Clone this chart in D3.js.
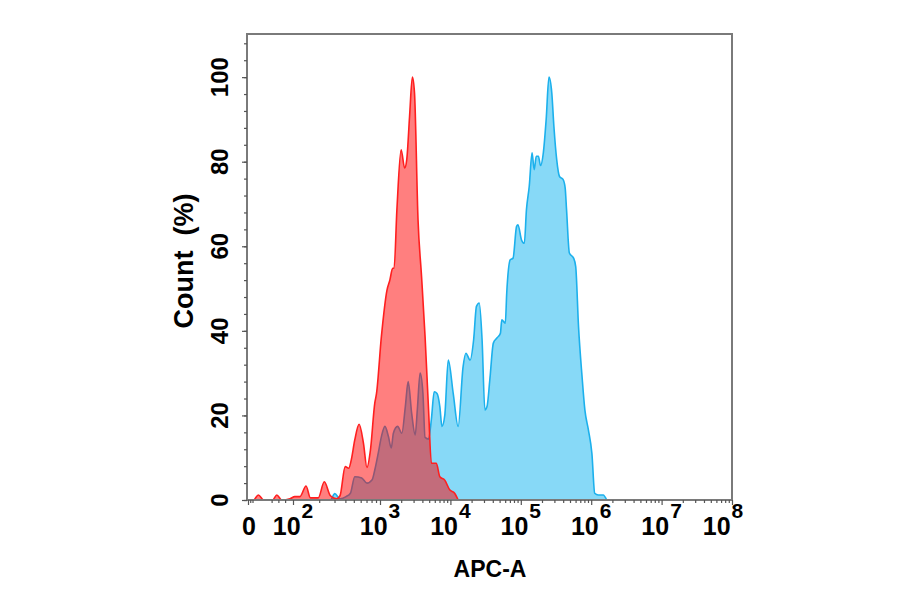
<!DOCTYPE html>
<html>
<head>
<meta charset="utf-8">
<script src="https://cdn.jsdelivr.net/npm/d3@7"></script>
<style>
  html, body { margin: 0; padding: 0; background: #fff; }
  svg { display: block; }
  text { font-family: "Liberation Sans", Arial, sans-serif; font-weight: bold; fill: #000; }
</style>
</head>
<body>
<svg id="chart" width="900" height="594"></svg>
<script>
// ---- Data (x in display decades: 0 = "0", 2 = 10^2 ... 8 = 10^8; y = Count %) ----
const xTickValues = [0, 2, 3, 4, 5, 6, 7, 8];
const xTickExponents = [null, "2", "3", "4", "5", "6", "7", "8"];
const yTickValues = [0, 20, 40, 60, 80, 100];
const yMinorTickValues = d3.range(0, 112, 4);

// isotype control (red)
const controlHist = [
  [0.10,0],[0.24,0],[0.46,1.2],[0.70,0],[1.10,0],[1.28,1.2],[1.50,0],[1.87,0.3],
  [2.02,0.8],[2.08,0.8],[2.15,3.3],[2.20,0.5],[2.29,0.5],[2.36,4.3],[2.43,1.0],
  [2.50,0.3],[2.54,1.0],[2.60,7.9],[2.64,7.5],[2.67,9.5],[2.71,14.2],[2.76,17.9],
  [2.81,13.4],[2.85,7.7],[2.89,11.8],[2.94,22.9],[2.96,25.2],[3.02,38.7],
  [3.10,49.7],[3.14,52.0],[3.18,54.8],[3.20,54.8],[3.24,68.6],[3.30,82.8],
  [3.35,78.5],[3.38,80.5],[3.42,90.7],[3.46,100],[3.49,96.3],[3.54,66.3],
  [3.59,52.9],[3.64,38.7],[3.69,21.3],[3.73,8.7],[3.80,8.7],[3.85,5.5],
  [3.92,4.7],[3.99,2.4],[4.06,1.6],[4.11,0]
];

// sample (blue)
const sampleHist = [
  [2.40,0],[2.43,0],[2.48,1.5],[2.54,0.3],[2.61,0.8],[2.66,1.6],[2.71,5.5],
  [2.79,5.2],[2.85,4.0],[2.91,4.8],[2.94,7.1],[2.98,11.1],[3.02,15.0],[3.07,17.4],
  [3.12,15.0],[3.16,12.3],[3.19,15.8],[3.25,17.4],[3.31,15.8],[3.36,22.1],
  [3.40,28.0],[3.45,20.5],[3.50,15.4],[3.53,21.3],[3.57,30.0],[3.61,25.2],
  [3.64,14.8],[3.69,14.4],[3.73,19.1],[3.77,25.6],[3.81,25.2],[3.85,22.1],
  [3.88,17.4],[3.92,20.0],[3.97,33.1],[4.04,25.2],[4.11,17.4],[4.18,31.5],
  [4.22,34.7],[4.28,33.1],[4.33,37.9],[4.37,45.8],[4.41,46.6],[4.45,37.9],
  [4.49,21.3],[4.52,22.1],[4.56,28.4],[4.61,37.1],[4.66,38.3],[4.71,39.4],
  [4.73,42.6],[4.78,41.8],[4.80,48.9],[4.85,56.8],[4.89,57.2],[4.94,64.7],
  [4.96,65.1],[5.01,61.5],[5.05,60.7],[5.08,68.6],[5.12,74.2],[5.16,82.1],
  [5.19,78.1],[5.22,81.3],[5.25,81.3],[5.28,79.1],[5.32,82.1],[5.36,89.9],
  [5.40,100],[5.44,96.3],[5.47,88.4],[5.51,80.5],[5.55,76.5],[5.60,75.8],
  [5.63,73.8],[5.65,68.6],[5.69,58.4],[5.75,57.2],[5.78,55.2],[5.82,41.0],
  [5.87,29.2],[5.91,21.3],[5.96,16.6],[6.01,11.0],[6.05,1.6],[6.10,1.2],
  [6.17,1.2],[6.22,0]
];

// ---- Scales ----
const svg = d3.select("#chart");
const frame = { left: 247, right: 732, top: 34, bottom: 500 };
const x = d3.scaleLinear().domain([0, 2, 3, 8]).range([248, 293, 380, 732]);
const y = d3.scaleLinear().domain([0, 110.2]).range([frame.bottom, frame.top]);

const xMinor = [0.1, 0.2, 1.05, 1.35, 1.65];
for (let n = 2; n < 8; n++) for (let k = 2; k <= 9; k++) xMinor.push(n + Math.log10(k));

// ---- Curves ----
const area = d3.area().x(d => x(d[0])).y0(y(0)).y1(d => y(d[1])).curve(d3.curveMonotoneX);
const line = d3.line().x(d => x(d[0])).y(d => y(d[1])).curve(d3.curveMonotoneX);

const plot = svg.append("g");
plot.append("path").datum(sampleHist).attr("d", area).attr("fill", "#87d9f7");
plot.append("path").datum(sampleHist).attr("d", line).attr("fill", "none")
  .attr("stroke", "#1cb0ec").attr("stroke-width", 1.6);
plot.append("path").datum(controlHist).attr("d", area).attr("fill", "rgba(255,0,0,0.5)");
plot.append("path").datum(controlHist).attr("d", line).attr("fill", "none")
  .attr("stroke", "#ff1f1f").attr("stroke-width", 1.6);

// ---- Frame ----
svg.append("rect")
  .attr("x", frame.left).attr("y", frame.top)
  .attr("width", frame.right - frame.left).attr("height", frame.bottom - frame.top)
  .attr("fill", "none").attr("stroke", "#7a7a7a").attr("stroke-width", 2);

// ---- Axes (ticks) ----
function styleAxis(g) {
  g.select(".domain").remove();
  g.selectAll("line").attr("stroke", "#555").attr("stroke-width", 1.2);
}
svg.append("g").attr("transform", `translate(0,${frame.bottom})`)
  .call(d3.axisBottom(x).tickValues(xMinor).tickSize(3).tickFormat(""))
  .call(styleAxis);
svg.append("g").attr("transform", `translate(0,${frame.bottom})`)
  .call(d3.axisBottom(x).tickValues(xTickValues).tickSize(5).tickFormat(""))
  .call(styleAxis);
svg.append("g").attr("transform", `translate(${frame.left},0)`)
  .call(d3.axisLeft(y).tickValues(yMinorTickValues).tickSize(3).tickFormat(""))
  .call(styleAxis);
svg.append("g").attr("transform", `translate(${frame.left},0)`)
  .call(d3.axisLeft(y).tickValues(yTickValues).tickSize(5).tickFormat(""))
  .call(styleAxis);

// ---- Tick labels ----
xTickValues.forEach((v, i) => {
  const shift = i === 0 ? 1 : (i === xTickValues.length - 1 ? -9 : 0);
  const t = svg.append("text")
    .attr("x", x(v) + shift).attr("y", 535)
    .attr("text-anchor", "middle").style("font-size", "25px");
  if (xTickExponents[i] === null) {
    t.text("0");
  } else {
    t.append("tspan").text("10");
    t.append("tspan").attr("dy", -17).attr("dx", 1).style("font-size", "21px").text(xTickExponents[i]);
  }
});

yTickValues.forEach(v => {
  svg.append("text")
    .attr("transform", `translate(228,${y(v)}) rotate(-90)`)
    .attr("text-anchor", "middle").style("font-size", "24px")
    .text(v);
});

// ---- Axis titles ----
svg.append("text")
  .attr("transform", "translate(193,261) rotate(-90)")
  .attr("text-anchor", "middle").style("font-size", "27px")
  .style("white-space", "pre")
  .text("Count  (%)");

svg.append("text")
  .attr("x", 490).attr("y", 577)
  .attr("text-anchor", "middle").style("font-size", "23px")
  .text("APC-A");
</script>
</body>
</html>
